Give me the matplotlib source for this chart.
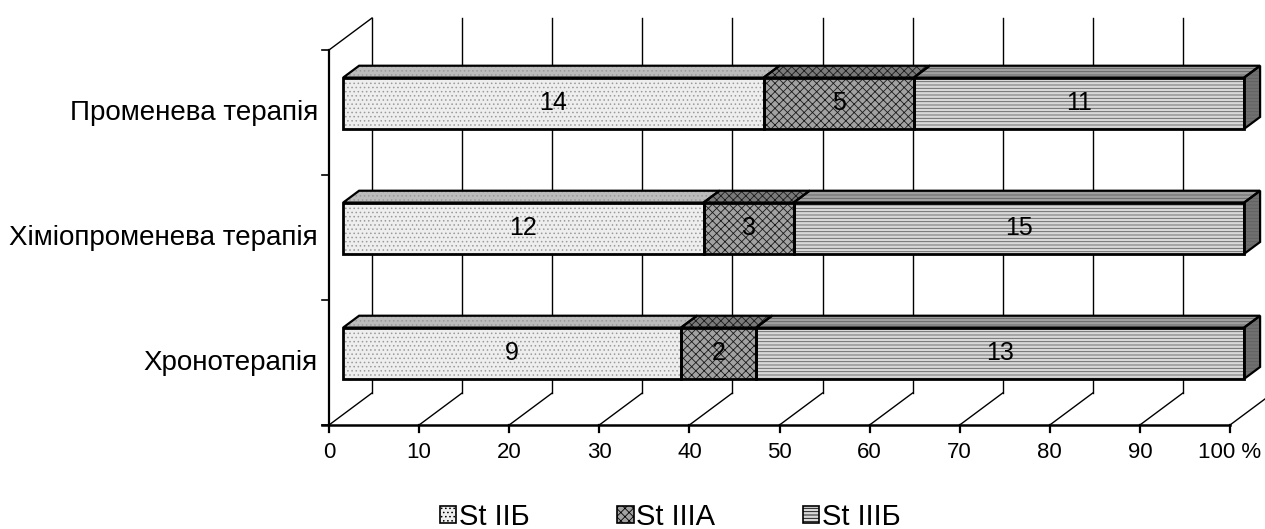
import matplotlib

matplotlib.use("Agg")

import matplotlib.pyplot as plt
from matplotlib.patches import Polygon, Patch

plt.rcParams["font.family"] = ["Liberation Sans", "DejaVu Sans"]
plt.rcParams["hatch.linewidth"] = 0.6

categories = ["Хронотерапія", "Хіміопроменева терапія", "Променева терапія"]
series_names = ["St IIБ", "St IIIA", "St IIIБ"]
st_2b = [9, 12, 14]
st_3a = [2, 3, 5]
st_3b = [13, 15, 11]
x_ticks = [0, 10, 20, 30, 40, 50, 60, 70, 80, 90, 100]
x_tick_labels = ["0", "10", "20", "30", "40", "50", "60", "70", "80", "90", "100 %"]

# face / top / side colours and hatch per series
STYLES = [
    dict(front="#eeeeee", top="#bcbcbc", side="#9a9a9a", hatch="....", hcol="#9a9a9a"),
    dict(front="#a2a2a2", top="#7a7a7a", side="#5a5a5a", hatch="xxxx", hcol="#1a1a1a"),
    dict(front="#d8d8d8", top="#a0a0a0", side="#707070", hatch="-----", hcol="#606060"),
]

W, H = 1265, 529
PX_PER_X = 9.01          # pixels per percent
PX_PER_Y = 125.0         # pixels per category slot
DX = 43 / PX_PER_X       # full depth of the 3d box, in data units
DY = 32 / PX_PER_Y
F0, F1 = 0.33, 0.70      # bar depth range (fraction of full depth)
BAR_H = 0.41


def face(ax, pts, st, color_key, lw=1.6):
    ax.add_patch(Polygon(pts, closed=True, facecolor=st[color_key], edgecolor="none", zorder=3))
    ax.add_patch(Polygon(pts, closed=True, fill=False, hatch=st["hatch"], edgecolor=st["hcol"], lw=0, zorder=3))
    ax.add_patch(Polygon(pts, closed=True, fill=False, edgecolor="black", lw=lw, joinstyle="miter", zorder=4))


def main():
    fig = plt.figure(figsize=(W / 100, H / 100), dpi=100)
    ax = fig.add_axes([0, 0, 1, 1])
    x0 = -329 / PX_PER_X
    y0 = -104 / PX_PER_Y
    ax.set_xlim(x0, x0 + W / PX_PER_X)
    ax.set_ylim(y0, y0 + H / PX_PER_Y)
    ax.axis("off")

    n = len(categories)
    tick_len_x = 7 / PX_PER_X
    tick_len_y = 7 / PX_PER_Y

    # back wall gridlines and floor diagonals
    for t in x_ticks:
        ax.plot([t + DX, t + DX], [DY, n + DY], color="black", lw=1.0, zorder=1)
        ax.plot([t, t + DX], [0, DY], color="black", lw=1.0, zorder=1)
        ax.plot([t, t], [0, -tick_len_y], color="black", lw=1.6, zorder=2)
    # left wall
    ax.plot([0, 0], [0, n], color="black", lw=1.6, zorder=2)
    ax.plot([0, DX], [n, n + DY], color="black", lw=1.0, zorder=1)
    for k in range(n + 1):
        ax.plot([-tick_len_x, 0], [k, k], color="black", lw=1.2, zorder=2)
    ax.plot([-tick_len_x, 100], [0, 0], color="black", lw=1.8, zorder=2)

    # stacked 100% bars
    sx0, sy0 = F0 * DX, F0 * DY
    ddx, ddy = (F1 - F0) * DX, (F1 - F0) * DY
    for i, cat in enumerate(categories):
        vals = [st_2b[i], st_3a[i], st_3b[i]]
        total = float(sum(vals))
        yc = i + 0.49
        yb, yt = yc - BAR_H / 2 + sy0, yc + BAR_H / 2 + sy0
        left = 0.0
        for j, v in enumerate(vals):
            w = 100.0 * v / total
            a, b = left + sx0, left + w + sx0
            st = STYLES[j]
            face(ax, [(a, yb), (b, yb), (b, yt), (a, yt)], st, "front", lw=2.0)
            face(ax, [(a, yt), (b, yt), (b + ddx, yt + ddy), (a + ddx, yt + ddy)], st, "top")
            if j == len(vals) - 1:
                face(ax, [(b, yb), (b + ddx, yb + ddy), (b + ddx, yt + ddy), (b, yt)], st, "side")
            ax.text((a + b) / 2, (yb + yt) / 2, str(v), ha="center", va="center",
                    fontsize=18, zorder=5)
            left += w
        ax.text(-11 / PX_PER_X, i + 0.5, cat, ha="right", va="center", fontsize=20)

    for t, lab in zip(x_ticks, x_tick_labels):
        ax.text(t, -28 / PX_PER_Y, lab, ha="center", va="center", fontsize=16)

    handles = [Patch(facecolor=st["front"], edgecolor="black", hatch=st["hatch"], lw=1.2) for st in STYLES]
    fig.legend(handles, series_names, loc="center", bbox_to_anchor=(0.530, 1 - 517 / H), ncol=3,
               frameon=False, fontsize=21, handlelength=0.55, handleheight=0.55, handletextpad=0.1,
               columnspacing=3.0, borderpad=0.1)

    fig.savefig("out.png", dpi=100)
    plt.close(fig)


if __name__ == "__main__":
    main()
